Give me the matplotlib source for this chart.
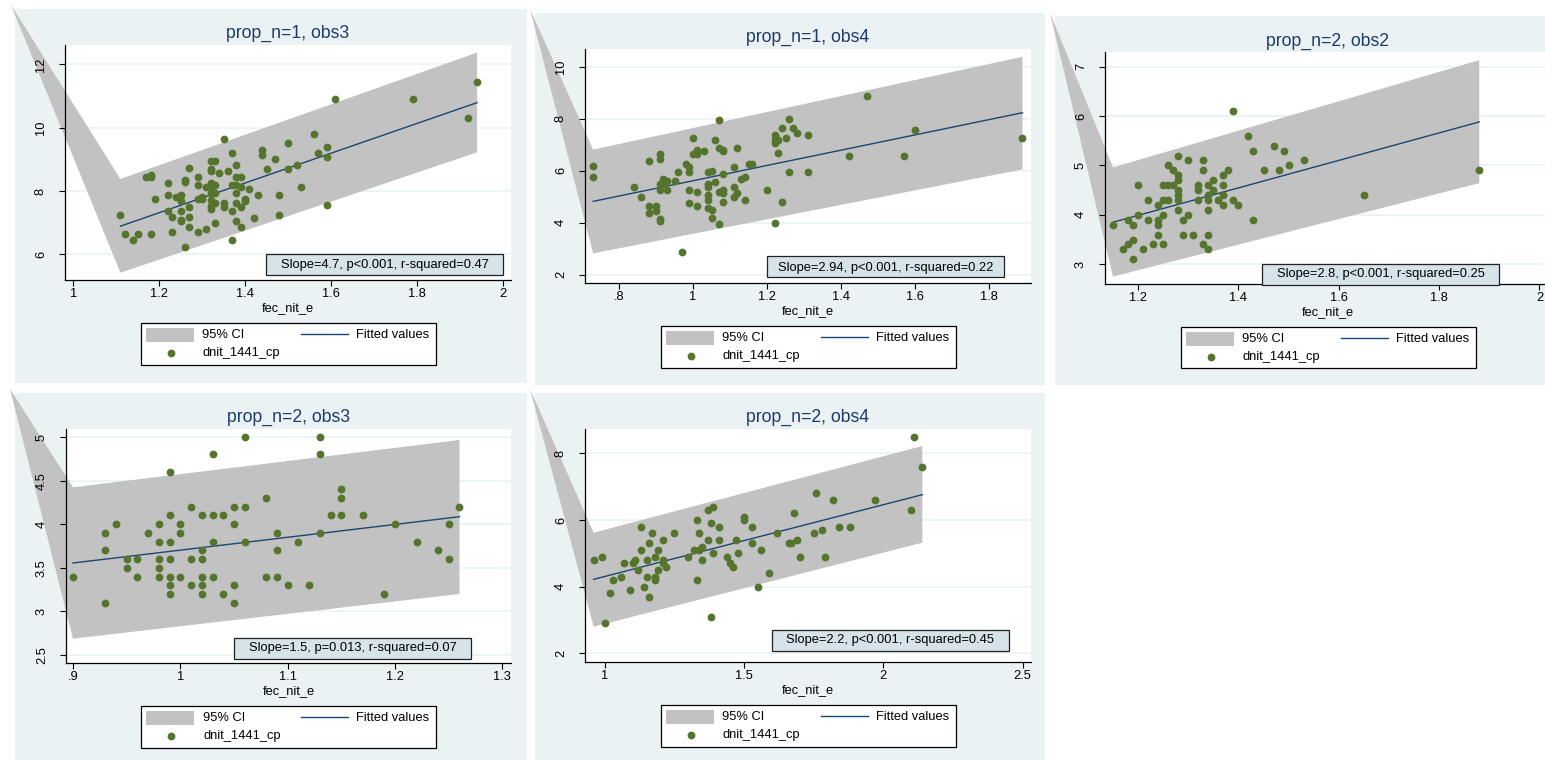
import matplotlib
matplotlib.use("Agg")
import matplotlib.pyplot as plt
from matplotlib.patches import Rectangle, Polygon
from matplotlib.lines import Line2D

plt.rcParams['font.family'] = ['Liberation Sans', 'DejaVu Sans']

# ---------------- data ----------------
titles = ["prop_n=1, obs3", "prop_n=1, obs4", "prop_n=2, obs2", "prop_n=2, obs3", "prop_n=2, obs4"]
slope_texts = ["Slope=4.7, p<0.001, r-squared=0.47",
               "Slope=2.94, p<0.001, r-squared=0.22",
               "Slope=2.8, p<0.001, r-squared=0.25",
               "Slope=1.5, p=0.013, r-squared=0.07",
               "Slope=2.2, p<0.001, r-squared=0.45"]
xlabel = "fec_nit_e"
legend_labels = ["95% CI", "Fitted values", "dnit_1441_cp"]

p1_x = [1.11, 1.12, 1.14, 1.15, 1.18, 1.17, 1.18, 1.18, 1.19, 1.22,
        1.22, 1.22, 1.23, 1.23, 1.24, 1.25, 1.25, 1.25, 1.25, 1.25,
        1.26, 1.26, 1.26, 1.27, 1.27, 1.27, 1.27, 1.29, 1.29, 1.29,
        1.29, 1.30, 1.30, 1.31, 1.31, 1.32, 1.32, 1.32, 1.32, 1.32,
        1.32, 1.32, 1.32, 1.32, 1.33, 1.33, 1.33, 1.33, 1.33, 1.34,
        1.35, 1.35, 1.35, 1.36, 1.37, 1.37, 1.37, 1.37, 1.38, 1.38,
        1.38, 1.38, 1.38, 1.38, 1.39, 1.39, 1.39, 1.39, 1.40, 1.40,
        1.41, 1.42, 1.43, 1.44, 1.44, 1.45, 1.47, 1.48, 1.48, 1.50,
        1.50, 1.52, 1.53, 1.56, 1.57, 1.59, 1.59, 1.59, 1.61, 1.79,
        1.92, 1.94]
p1_y = [7.24, 6.63, 6.45, 6.63, 6.63, 8.45, 8.45, 8.50, 7.74, 8.24,
        7.87, 7.38, 7.19, 6.69, 7.80, 7.87, 7.68, 7.38, 7.10, 7.05,
        8.35, 8.30, 6.24, 8.74, 7.50, 7.19, 6.87, 8.45, 8.19, 7.74,
        6.69, 7.80, 7.74, 8.14, 6.80, 8.94, 8.68, 8.63, 8.24, 8.14,
        7.93, 7.72, 7.53, 7.43, 8.94, 8.19, 7.93, 7.63, 7.00, 8.56,
        9.63, 7.63, 7.50, 8.63, 9.19, 8.19, 7.38, 6.45, 8.82, 8.45,
        8.19, 7.93, 7.63, 7.05, 8.45, 8.14, 7.50, 6.87, 7.74, 7.68,
        8.05, 7.14, 7.87, 9.29, 9.13, 8.68, 9.00, 7.87, 7.24, 9.50,
        8.68, 8.82, 8.14, 9.81, 9.19, 9.39, 9.06, 7.56, 10.89, 10.89,
        10.32, 11.45]
p1_fit_x = [1.11, 1.94]
p1_fit_y = [6.89, 10.79]
p1_ci_hi = [8.38, 12.37]
p1_ci_lo = [5.42, 9.22]

p2_x = [0.73, 0.73, 0.84, 0.86, 0.88, 0.88, 0.88, 0.90, 0.90, 0.91,
        0.91, 0.91, 0.91, 0.91, 0.91, 0.92, 0.92, 0.93, 0.93, 0.95,
        0.96, 0.97, 0.98, 0.99, 0.99, 0.99, 0.99, 1.00, 1.00, 1.01,
        1.01, 1.01, 1.01, 1.03, 1.04, 1.04, 1.04, 1.04, 1.04, 1.04,
        1.05, 1.05, 1.05, 1.06, 1.06, 1.07, 1.07, 1.07, 1.07, 1.08,
        1.08, 1.08, 1.08, 1.08, 1.08, 1.11, 1.11, 1.11, 1.12, 1.12,
        1.13, 1.14, 1.14, 1.15, 1.16, 1.20, 1.22, 1.22, 1.22, 1.23,
        1.23, 1.22, 1.24, 1.24, 1.25, 1.26, 1.26, 1.27, 1.28, 1.31,
        1.31, 1.42, 1.47, 1.57, 1.60, 1.89]
p2_y = [6.19, 5.74, 5.37, 5.00, 6.37, 4.64, 4.38, 4.64, 4.45, 6.63,
        6.44, 5.50, 5.24, 4.13, 4.06, 5.67, 5.50, 5.62, 5.24, 5.62,
        5.94, 2.88, 6.24, 6.13, 5.94, 5.24, 4.74, 7.24, 6.63, 6.80,
        6.63, 5.19, 4.64, 6.74, 5.94, 5.50, 5.37, 5.06, 4.87, 4.55,
        6.00, 4.49, 4.19, 7.18, 5.56, 7.94, 6.87, 5.19, 3.94, 6.81,
        6.74, 5.87, 5.24, 5.13, 4.81, 6.13, 5.37, 5.00, 6.87, 5.13,
        5.68, 5.74, 4.87, 6.24, 6.24, 5.24, 7.37, 7.18, 7.05, 7.18,
        6.69, 4.00, 7.63, 4.81, 7.24, 8.00, 5.94, 7.63, 7.44, 7.37,
        5.94, 6.56, 8.87, 6.56, 7.56, 7.24]
p2_fit_x = [0.73, 1.89]
p2_fit_y = [4.82, 8.23]
p2_ci_hi = [6.81, 10.38]
p2_ci_lo = [2.82, 6.05]

p3_x = [1.15, 1.17, 1.18, 1.18, 1.19, 1.19, 1.19, 1.20, 1.20, 1.21,
        1.22, 1.22, 1.23, 1.24, 1.24, 1.24, 1.24, 1.25, 1.25, 1.25,
        1.25, 1.26, 1.26, 1.26, 1.27, 1.27, 1.28, 1.28, 1.28, 1.28,
        1.28, 1.28, 1.28, 1.29, 1.29, 1.30, 1.30, 1.31, 1.32, 1.32,
        1.32, 1.33, 1.33, 1.33, 1.34, 1.34, 1.34, 1.34, 1.34, 1.34,
        1.35, 1.35, 1.36, 1.37, 1.37, 1.37, 1.37, 1.38, 1.39, 1.39,
        1.40, 1.42, 1.43, 1.43, 1.45, 1.47, 1.48, 1.49, 1.50, 1.53,
        1.65, 1.88]
p3_y = [3.8, 3.3, 3.9, 3.4, 3.8, 3.5, 3.1, 4.6, 4.0, 3.3,
        4.3, 3.9, 3.4, 4.2, 3.9, 3.8, 3.6, 4.6, 4.3, 4.0,
        3.4, 5.0, 4.6, 4.3, 4.9, 4.6, 5.2, 4.8, 4.7, 4.5,
        4.4, 4.3, 4.1, 3.9, 3.6, 5.1, 4.0, 3.6, 4.6, 4.5,
        4.3, 5.1, 4.9, 3.4, 4.6, 4.4, 4.3, 4.1, 3.6, 3.3,
        4.7, 4.5, 4.3, 4.8, 4.6, 4.4, 4.2, 4.9, 6.1, 4.3,
        4.2, 5.6, 5.3, 3.9, 4.9, 5.4, 4.9, 5.3, 5.0, 5.1,
        4.4, 4.9]
p3_fit_x = [1.15, 1.88]
p3_fit_y = [3.85, 5.88]
p3_ci_hi = [4.96, 7.13]
p3_ci_lo = [2.75, 4.64]

p4_x = [0.90, 0.93, 0.93, 0.93, 0.94, 0.95, 0.95, 0.96, 0.96, 0.97,
        0.98, 0.98, 0.98, 0.98, 0.98, 0.99, 0.99, 0.99, 0.99, 0.99,
        0.99, 0.99, 1.00, 1.00, 1.00, 1.01, 1.01, 1.01, 1.02, 1.02,
        1.02, 1.02, 1.02, 1.02, 1.03, 1.03, 1.03, 1.03, 1.04, 1.04,
        1.05, 1.05, 1.05, 1.05, 1.06, 1.06, 1.06, 1.08, 1.08, 1.09,
        1.09, 1.09, 1.10, 1.11, 1.12, 1.13, 1.13, 1.13, 1.14, 1.15,
        1.15, 1.15, 1.17, 1.19, 1.20, 1.22, 1.24, 1.25, 1.25, 1.26]
p4_y = [3.4, 3.9, 3.7, 3.1, 4.0, 3.6, 3.5, 3.6, 3.4, 3.9,
        4.0, 3.8, 3.6, 3.5, 3.4, 4.6, 4.1, 3.8, 3.6, 3.4,
        3.3, 3.2, 4.0, 3.9, 3.4, 4.2, 3.6, 3.3, 4.1, 3.7,
        3.6, 3.4, 3.3, 3.2, 4.8, 4.1, 3.8, 3.4, 4.1, 3.2,
        4.2, 4.0, 3.3, 3.1, 5.0, 4.2, 3.8, 4.3, 3.4, 3.9,
        3.7, 3.4, 3.3, 3.8, 3.3, 5.0, 4.8, 3.9, 4.1, 4.4,
        4.3, 4.1, 4.1, 3.2, 4.0, 3.8, 3.7, 4.0, 3.6, 4.2]
p4_fit_x = [0.90, 1.26]
p4_fit_y = [3.555, 4.086]
p4_ci_hi = [4.423, 4.966]
p4_ci_lo = [2.687, 3.20]

p5_x = [0.96, 0.99, 1.00, 1.02, 1.03, 1.06, 1.07, 1.09, 1.10, 1.11,
        1.12, 1.13, 1.13, 1.14, 1.15, 1.15, 1.16, 1.16, 1.17, 1.18,
        1.18, 1.18, 1.19, 1.19, 1.21, 1.21, 1.21, 1.22, 1.25, 1.30,
        1.32, 1.33, 1.33, 1.34, 1.34, 1.35, 1.35, 1.37, 1.37, 1.38,
        1.38, 1.39, 1.39, 1.41, 1.41, 1.44, 1.45, 1.46, 1.47, 1.48,
        1.50, 1.50, 1.53, 1.53, 1.55, 1.56, 1.59, 1.62, 1.66, 1.67,
        1.68, 1.69, 1.70, 1.75, 1.76, 1.78, 1.79, 1.82, 1.84, 1.88,
        1.97, 2.10, 2.11, 2.14]
p5_y = [4.8, 4.9, 2.9, 3.8, 4.2, 4.3, 4.7, 3.9, 4.7, 4.8,
        4.5, 5.8, 5.1, 4.0, 4.8, 4.3, 5.3, 3.7, 5.6, 4.9,
        4.3, 4.2, 5.1, 4.5, 5.4, 4.8, 4.7, 4.6, 5.6, 4.9,
        5.1, 6.0, 4.2, 5.6, 5.1, 5.2, 4.8, 6.3, 5.4, 5.9,
        3.1, 6.4, 5.0, 5.8, 5.4, 4.9, 4.7, 4.6, 5.4, 5.0,
        6.1, 6.0, 5.8, 5.3, 4.0, 5.1, 4.4, 5.6, 5.3, 5.3,
        6.2, 5.4, 4.9, 5.6, 6.8, 5.7, 4.9, 6.6, 5.8, 5.8,
        6.6, 6.3, 8.5, 7.6]
p5_fit_x = [0.96, 2.14]
p5_fit_y = [4.22, 6.76]
p5_ci_hi = [5.62, 8.22]
p5_ci_lo = [2.80, 5.32]

p1_xticks = [1, 1.2, 1.4, 1.6, 1.8, 2]
p1_xticklabels = ["1", "1.2", "1.4", "1.6", "1.8", "2"]
p1_yticks = [6, 8, 10, 12]
p1_yticklabels = ["6", "8", "10", "12"]
p2_xticks = [0.8, 1, 1.2, 1.4, 1.6, 1.8]
p2_xticklabels = [".8", "1", "1.2", "1.4", "1.6", "1.8"]
p2_yticks = [2, 4, 6, 8, 10]
p2_yticklabels = ["2", "4", "6", "8", "10"]
p3_xticks = [1.2, 1.4, 1.6, 1.8, 2]
p3_xticklabels = ["1.2", "1.4", "1.6", "1.8", "2"]
p3_yticks = [3, 4, 5, 6, 7]
p3_yticklabels = ["3", "4", "5", "6", "7"]
p4_xticks = [0.9, 1, 1.1, 1.2, 1.3]
p4_xticklabels = [".9", "1", "1.1", "1.2", "1.3"]
p4_yticks = [2.5, 3, 3.5, 4, 4.5, 5]
p4_yticklabels = ["2.5", "3", "3.5", "4", "4.5", "5"]
p5_xticks = [1, 1.5, 2, 2.5]
p5_xticklabels = ["1", "1.5", "2", "2.5"]
p5_yticks = [2, 4, 6, 8]
p5_yticklabels = ["2", "4", "6", "8"]

# ---------------- layout (pixels in the 1545x760 image) ----------------
W, H = 1545, 760
axes_px = [(65, 45, 511, 280), (585, 49, 1031, 283), (1105, 52, 1551, 284),
           (66, 429, 511, 663), (585, 429, 1031, 662)]
bg_px = [(15, 9, 527, 383), (535, 13, 1045, 385), (1055, 16, 1560, 385),
         (15, 393, 527, 770), (535, 393, 1045, 770)]
tip_px = [(11, 5), (530, 9), (1050, 13), (10, 389), (530, 389)]
title_y = [33, 37, 41, 417, 417]
slope_center = [(384.5, 264.5), (885.5, 267), (1380.5, 274), (352.5, 648), (890.5, 640)]
xlims = [(0.981, 2.019), (0.708, 1.913), (1.134, 2.023), (0.8935, 1.308), (0.929, 2.53)]
ylims = [(5.19, 12.61), (1.68, 10.68), (2.60, 7.295), (2.408, 5.092), (1.74, 8.73)]

BG = '#EAF2F3'
BAND = '#C2C2C2'
FITC = '#1A476F'
DOT = '#55752F'
TITLEC = '#1E3A6A'
BOXC = '#D6E3E9'
FS = 9.3

fig = plt.figure(figsize=(W / 100, H / 100), dpi=100)
fig.patch.set_facecolor('white')


def fr(x, y):
    return (x / W, 1 - y / H)


def frect(x0, y0, x1, y1, **kw):
    r = Rectangle(fr(x0, y1), (x1 - x0) / W, (y1 - y0) / H, transform=fig.transFigure, **kw)
    fig.add_artist(r)
    return r


panels = [
    (p1_x, p1_y, p1_fit_x, p1_fit_y, p1_ci_hi, p1_ci_lo, p1_xticks, p1_xticklabels, p1_yticks, p1_yticklabels),
    (p2_x, p2_y, p2_fit_x, p2_fit_y, p2_ci_hi, p2_ci_lo, p2_xticks, p2_xticklabels, p2_yticks, p2_yticklabels),
    (p3_x, p3_y, p3_fit_x, p3_fit_y, p3_ci_hi, p3_ci_lo, p3_xticks, p3_xticklabels, p3_yticks, p3_yticklabels),
    (p4_x, p4_y, p4_fit_x, p4_fit_y, p4_ci_hi, p4_ci_lo, p4_xticks, p4_xticklabels, p4_yticks, p4_yticklabels),
    (p5_x, p5_y, p5_fit_x, p5_fit_y, p5_ci_hi, p5_ci_lo, p5_xticks, p5_xticklabels, p5_yticks, p5_yticklabels),
]

for i, (px, py, fx, fy, chi, clo, xt, xtl, yt, ytl) in enumerate(panels):
    # panel background
    b = bg_px[i]
    frect(b[0], b[1], b[2], b[3], facecolor=BG, edgecolor='none', zorder=-5)

    l, t, r, bt = axes_px[i]
    ax = fig.add_axes([l / W, 1 - bt / H, (r - l) / W, (bt - t) / H])
    ax.set_facecolor('white')
    ax.set_xlim(*xlims[i])
    ax.set_ylim(*ylims[i])
    for s in ['top', 'right']:
        ax.spines[s].set_visible(False)
    for s in ['left', 'bottom']:
        ax.spines[s].set_linewidth(0.9)
        ax.spines[s].set_color('#000000')
        ax.spines[s].set_zorder(2.6)
    ax.set_axisbelow(False)
    ax.grid(False)
    # horizontal gridlines under the band
    ax.hlines(yt, xlims[i][0], xlims[i][1], colors=BG, linewidth=1.2, zorder=0.5)

    ax.set_xticks(xt, xtl)
    ax.set_yticks(yt, ytl)
    ax.tick_params(axis='x', direction='out', length=4, width=0.8, pad=2, labelsize=FS)
    ax.tick_params(axis='y', direction='out', length=4, width=0.8, pad=9, labelsize=FS)
    for lab in ax.get_yticklabels():
        lab.set_rotation(90)
        lab.set_va('center')
        lab.set_ha('right')

    # CI band (with the odd spike to the panel corner, as in the reference)
    tip = ax.transData.inverted().transform(fig.transFigure.transform(fr(*tip_px[i])))
    verts = [tuple(tip), (fx[0], chi[0]), (fx[1], chi[1]), (fx[1], clo[1]), (fx[0], clo[0])]
    ax.add_patch(Polygon(verts, closed=True, facecolor=BAND, edgecolor='none',
                         clip_on=False, zorder=1))
    ax.plot(fx, fy, color=FITC, linewidth=1.0, zorder=3)
    ax.plot(px, py, linestyle='none', marker='o', markersize=4.6,
            markerfacecolor=DOT, markeredgecolor=DOT, zorder=4)

    cx = (l + r) / 2
    fig.text(*fr(cx, title_y[i]), titles[i], ha='center', va='center',
             fontsize=12.7, color=TITLEC)
    fig.text(*fr(cx, bt + 28), xlabel, ha='center', va='center', fontsize=FS, color='black')

    # slope annotation box
    sx, sy = slope_center[i]
    frect(sx - 118.5, sy - 10.5, sx + 118.5, sy + 10.5, facecolor=BOXC, edgecolor='#222222',
          linewidth=0.9, zorder=5)
    fig.text(*fr(sx, sy + 0.5), slope_texts[i], ha='center', va='center', fontsize=FS,
             color='black', zorder=6)

    # legend (drawn as in Stata: box below the plot)
    lx0 = cx - 147.5
    ly0 = bt + 42.5
    frect(lx0, ly0, lx0 + 295, ly0 + 42, facecolor='white', edgecolor='black',
          linewidth=0.9, zorder=5)
    frect(lx0 + 5, ly0 + 5, lx0 + 53, ly0 + 19, facecolor=BAND, edgecolor='none', zorder=6)
    fig.text(*fr(lx0 + 62, ly0 + 12.5), legend_labels[0], ha='left', va='center',
             fontsize=FS, color='black', zorder=6)
    fig.add_artist(Line2D([(lx0 + 160) / W, (lx0 + 207) / W], [1 - (ly0 + 11.5) / H] * 2,
                          transform=fig.transFigure, color=FITC, linewidth=1.0, zorder=6))
    fig.text(*fr(lx0 + 215, ly0 + 12.5), legend_labels[1], ha='left', va='center',
             fontsize=FS, color='black', zorder=6)
    fig.add_artist(Line2D([(lx0 + 30) / W], [1 - (ly0 + 30.5) / H], transform=fig.transFigure,
                          linestyle='none', marker='o', markersize=4.6,
                          markerfacecolor=DOT, markeredgecolor=DOT, zorder=6))
    fig.text(*fr(lx0 + 62, ly0 + 30.5), legend_labels[2], ha='left', va='center',
             fontsize=FS, color='black', zorder=6)

fig.savefig('out.png', dpi=100, facecolor='white')
